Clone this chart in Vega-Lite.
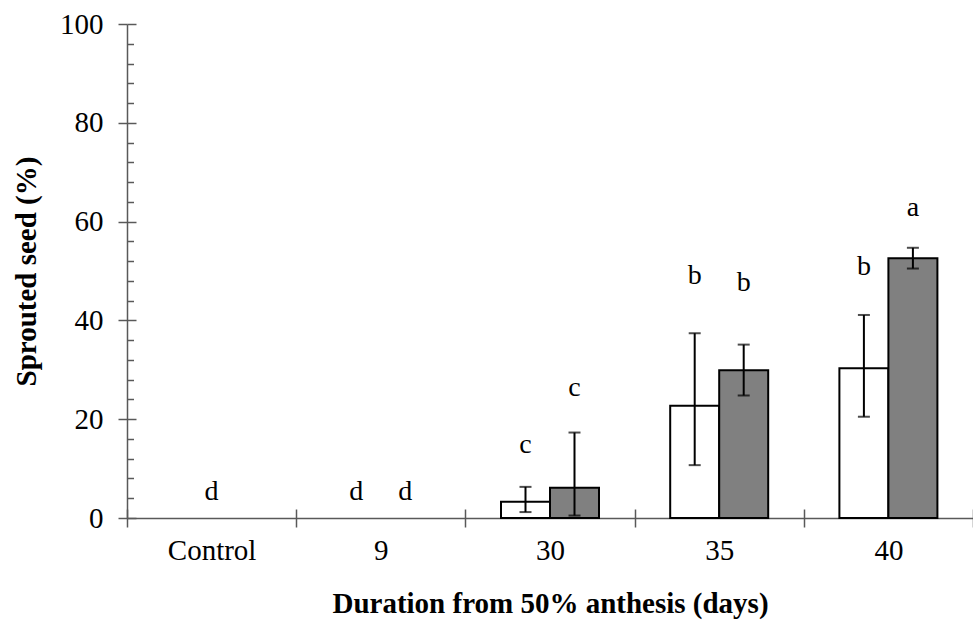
{
  "$schema": "https://vega.github.io/schema/vega-lite/v6.json",
  "width": 846,
  "height": 494,
  "autosize": {"type": "none"},
  "padding": {"left": 127, "top": 24, "right": 0, "bottom": 110},
  "background": "white",
  "config": {
    "view": {"stroke": null},
    "font": "Liberation Serif",
    "axis": {"grid": false, "domainColor": "#595959", "tickColor": "#595959", "domainWidth": 1.5, "tickWidth": 1.5, "labelFont": "Liberation Serif", "titleFont": "Liberation Serif", "labelColor": "black", "titleColor": "black"}
  },
  "datasets": {
    "bars": [
      {"cat": "30", "grp": "A", "v": 3.3, "lo": 1.2, "hi": 6.3},
      {"cat": "30", "grp": "B", "v": 6.1, "lo": 0.5, "hi": 17.3},
      {"cat": "35", "grp": "A", "v": 22.7, "lo": 10.7, "hi": 37.4},
      {"cat": "35", "grp": "B", "v": 29.9, "lo": 24.8, "hi": 35.1},
      {"cat": "40", "grp": "A", "v": 30.3, "lo": 20.5, "hi": 41.1},
      {"cat": "40", "grp": "B", "v": 52.6, "lo": 50.5, "hi": 54.7}
    ],
    "labels": [
      {"cat": "Control", "pos": "M", "txt": "d", "y": 5.3},
      {"cat": "9", "pos": "A", "txt": "d", "y": 5.3},
      {"cat": "9", "pos": "B", "txt": "d", "y": 5.3},
      {"cat": "30", "pos": "A", "txt": "c", "y": 14.8},
      {"cat": "30", "pos": "B", "txt": "c", "y": 26.4},
      {"cat": "35", "pos": "A", "txt": "b", "y": 49.0},
      {"cat": "35", "pos": "B", "txt": "b", "y": 47.5},
      {"cat": "40", "pos": "A", "txt": "b", "y": 50.9},
      {"cat": "40", "pos": "B", "txt": "a", "y": 62.7}
    ]
  },
  "layer": [
    {
      "data": {"name": "bars"},
      "mark": {"type": "bar", "stroke": "black", "strokeWidth": 2},
      "encoding": {
        "x": {"field": "cat", "type": "nominal", "sort": ["Control", "9", "30", "35", "40"],
              "scale": {"domain": ["Control", "9", "30", "35", "40"], "paddingInner": 0, "paddingOuter": 0},
              "axis": {"title": "Duration from 50% anthesis (days)", "titleFontSize": 29, "titleFontWeight": "bold", "titlePadding": 24, "labelFontSize": 29, "labelAngle": 0, "tickBand": "extent", "tickSize": 9, "labelPadding": 9}},
        "xOffset": {"field": "grp", "type": "nominal", "scale": {"domain": ["A", "B"], "range": [35.6, 133.6], "paddingInner": 0, "paddingOuter": 0}},
        "y": {"field": "v", "type": "quantitative", "scale": {"domain": [0, 100], "nice": false},
              "axis": {"title": "Sprouted seed (%)", "titleFontSize": 29, "titleFontWeight": "bold", "titlePadding": 18, "values": [0, 20, 40, 60, 80, 100], "tickSize": 9, "labelFontSize": 29, "labelPadding": 15}},
        "fill": {"field": "grp", "type": "nominal", "scale": {"domain": ["A", "B"], "range": ["#ffffff", "#808080"]}, "legend": null}
      }
    },
    {
      "data": {"name": "bars"},
      "mark": {"type": "rule", "color": "black", "strokeWidth": 2},
      "encoding": {
        "x": {"field": "cat", "type": "nominal", "sort": ["Control", "9", "30", "35", "40"],
              "axis": {"orient": "bottom", "labels": false, "domain": false, "title": null, "tickBand": "extent", "tickSize": -9}},
        "xOffset": {"field": "grp", "type": "nominal", "scale": {"domain": ["A", "B"], "range": [35.6, 133.6], "paddingInner": 0, "paddingOuter": 0}},
        "y": {"field": "lo", "type": "quantitative",
              "axis": {"orient": "left", "labels": false, "domain": false, "title": null, "values": [4, 8, 12, 16, 24, 28, 32, 36, 44, 48, 52, 56, 64, 68, 72, 76, 84, 88, 92, 96], "tickSize": -6.5}},
        "y2": {"field": "hi"}
      }
    },
    {
      "data": {"name": "bars"},
      "mark": {"type": "tick", "color": "black", "thickness": 2, "size": 12, "orient": "horizontal"},
      "encoding": {
        "x": {"field": "cat", "type": "nominal", "sort": ["Control", "9", "30", "35", "40"], "axis": null},
        "xOffset": {"field": "grp", "type": "nominal", "scale": {"domain": ["A", "B"], "range": [35.6, 133.6], "paddingInner": 0, "paddingOuter": 0}},
        "y": {"field": "lo", "type": "quantitative", "axis": null}
      }
    },
    {
      "data": {"name": "bars"},
      "mark": {"type": "tick", "color": "black", "thickness": 2, "size": 12, "orient": "horizontal"},
      "encoding": {
        "x": {"field": "cat", "type": "nominal", "sort": ["Control", "9", "30", "35", "40"], "axis": null},
        "xOffset": {"field": "grp", "type": "nominal", "scale": {"domain": ["A", "B"], "range": [35.6, 133.6], "paddingInner": 0, "paddingOuter": 0}},
        "y": {"field": "hi", "type": "quantitative", "axis": null}
      }
    },
    {
      "data": {"name": "labels"},
      "mark": {"type": "text", "fontSize": 28, "font": "Liberation Serif", "color": "black", "baseline": "middle", "align": "center"},
      "encoding": {
        "x": {"field": "cat", "type": "nominal", "sort": ["Control", "9", "30", "35", "40"], "axis": null},
        "xOffset": {"field": "pos", "type": "nominal", "scale": {"type": "point", "domain": ["A", "M", "B"], "range": [60.1, 109.1], "padding": 0}},
        "y": {"field": "y", "type": "quantitative",
              "axis": {"orient": "left", "labels": false, "domain": false, "title": null, "values": [0, 20, 40, 60, 80, 100], "tickSize": -9}},
        "text": {"field": "txt"}
      }
    }
  ],
  "resolve": {"axis": {"x": "independent", "y": "independent"}, "scale": {"xOffset": "independent"}}
}
